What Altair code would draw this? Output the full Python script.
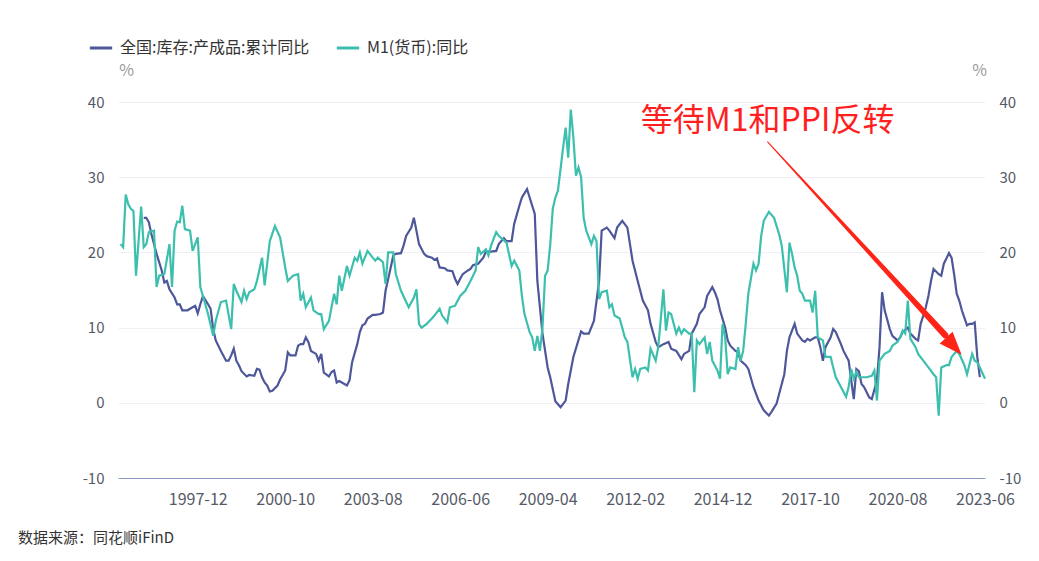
import altair as alt
import pandas as pd

# ---- data (month index counted from 1995-05) ----
series_names = ["全国:库存:产成品:累计同比", "M1(货币):同比"]
series_colors = ["#4d5799", "#3dbfae"]

inv_month = [10, 11, 12, 13, 15, 17, 18, 19, 20, 22, 23, 24, 25, 27, 29, 30, 31, 32, 33, 35, 36, 37, 38, 40, 42, 43, 44, 45, 46, 47, 48, 50, 51, 53, 54, 55, 56, 57, 58, 59, 60, 62, 63, 64, 65, 66, 67, 69, 70, 71, 72, 73, 74, 75, 77, 78, 79, 80, 82, 83, 84, 85, 86, 88, 89, 90, 91, 93, 94, 95, 96, 97, 99, 100, 102, 103, 104, 106, 107, 108, 110, 111, 112, 114, 115, 116, 117, 119, 120, 122, 123, 124, 125, 127, 128, 130, 131, 132, 133, 134, 136, 137, 138, 140, 142, 143, 145, 147, 148, 150, 151, 153, 154, 156, 157, 159, 160, 162, 163, 165, 167, 168, 170, 172, 174, 175, 177, 180, 181, 183, 185, 187, 188, 190, 191, 193, 194, 196, 198, 199, 200, 202, 204, 206, 207, 209, 210, 212, 214, 215, 217, 219, 220, 222, 223, 225, 226, 228, 229, 231, 232, 233, 234, 236, 237, 238, 240, 241, 242, 244, 245, 247, 249, 251, 253, 254, 256, 257, 259, 260, 261, 263, 264, 266, 267, 268, 269, 271, 272, 273, 274, 275, 277, 278, 279, 281, 282, 284, 285, 286, 287, 288, 289, 290, 291, 292, 293, 295, 296, 297, 298, 300, 301, 303, 304, 305, 307, 308, 310, 311, 312, 314, 315, 316, 317, 319, 320, 321, 323, 324, 325, 326, 327, 328, 330, 331, 332, 333, 334, 335]
inv_value = [24.6, 24.6, 24.0, 22.4, 19.8, 17.6, 16.0, 16.2, 15.1, 14.0, 13.1, 13.1, 12.3, 12.3, 12.7, 12.9, 11.9, 13.1, 14.2, 13.1, 12.5, 9.8, 8.3, 6.9, 5.6, 5.6, 6.3, 7.2, 5.6, 5.0, 4.2, 3.5, 3.7, 3.6, 4.5, 4.4, 3.4, 2.7, 2.3, 1.5, 1.6, 2.3, 3.1, 3.7, 4.3, 6.7, 6.3, 6.3, 7.6, 7.8, 7.8, 8.7, 8.1, 6.9, 6.5, 5.6, 6.5, 4.0, 3.5, 4.1, 4.3, 2.7, 2.9, 2.5, 2.3, 3.0, 5.4, 7.8, 9.4, 10.3, 10.5, 11.2, 11.7, 11.7, 11.8, 12.0, 14.9, 18.0, 19.6, 19.8, 19.9, 20.9, 22.2, 23.3, 24.6, 22.9, 21.1, 19.8, 19.5, 19.3, 19.0, 19.2, 18.0, 17.9, 17.6, 17.5, 16.5, 15.8, 16.5, 17.1, 17.6, 17.8, 18.3, 18.5, 19.3, 20.1, 20.1, 20.2, 21.1, 21.9, 21.5, 21.5, 23.8, 26.2, 27.3, 28.4, 27.3, 25.1, 16.2, 9.2, 4.7, 3.4, 0.2, -0.6, 0.3, 2.5, 6.1, 9.5, 9.2, 9.2, 10.9, 16.2, 22.9, 23.3, 22.9, 21.9, 23.3, 24.2, 23.3, 21.1, 18.9, 16.2, 13.6, 12.3, 10.5, 8.1, 7.4, 7.8, 8.1, 7.2, 6.9, 5.8, 6.5, 6.9, 9.2, 10.5, 11.8, 12.7, 14.2, 15.4, 14.7, 13.8, 12.3, 10.0, 8.3, 7.6, 6.9, 6.7, 5.6, 5.0, 4.5, 2.1, 0.3, -1.0, -1.7, -1.2, -0.1, 1.2, 3.8, 6.9, 8.7, 10.5, 9.2, 8.3, 8.1, 8.5, 8.3, 8.7, 8.7, 7.4, 5.6, 7.4, 8.7, 9.8, 9.4, 7.8, 6.9, 5.6, 3.0, 0.5, 4.5, 4.2, 2.5, 2.1, 1.4, 0.7, 0.5, 3.0, 7.4, 14.7, 12.3, 9.8, 8.9, 8.3, 8.7, 9.4, 10.0, 9.2, 8.5, 8.3, 10.5, 12.7, 14.2, 16.2, 17.8, 17.1, 16.9, 18.5, 19.9, 19.3, 17.1, 14.5, 13.6, 12.3, 10.3, 10.5, 10.5, 10.7, 6.1, 3.4]

m1_month = [1, 2, 3, 4, 5, 6, 7, 8, 9, 10, 11, 12, 14, 15, 16, 18, 20, 21, 22, 23, 24, 25, 26, 28, 29, 31, 32, 33, 35, 37, 38, 40, 42, 44, 45, 46, 48, 49, 50, 51, 53, 54, 56, 57, 59, 61, 63, 65, 66, 68, 70, 71, 72, 73, 75, 76, 78, 79, 80, 82, 84, 85, 86, 87, 89, 90, 92, 93, 94, 95, 97, 99, 100, 101, 103, 104, 105, 107, 108, 110, 112, 113, 115, 116, 117, 118, 120, 122, 123, 125, 126, 128, 129, 131, 133, 135, 137, 139, 140, 141, 143, 144, 145, 147, 148, 149, 151, 153, 154, 156, 157, 158, 160, 161, 162, 163, 164, 165, 166, 167, 168, 169, 170, 171, 173, 174, 175, 176, 177, 178, 179, 180, 181, 182, 184, 185, 186, 187, 188, 190, 191, 192, 193, 195, 197, 198, 200, 201, 202, 203, 205, 206, 207, 209, 210, 212, 213, 214, 215, 216, 217, 218, 219, 220, 222, 223, 224, 225, 226, 228, 229, 230, 231, 233, 234, 235, 236, 237, 238, 240, 241, 242, 243, 244, 245, 247, 248, 249, 250, 251, 253, 255, 257, 258, 260, 261, 262, 263, 264, 265, 266, 267, 269, 270, 271, 272, 274, 275, 277, 278, 279, 281, 283, 284, 285, 286, 287, 288, 290, 291, 293, 294, 295, 296, 298, 300, 301, 303, 304, 305, 306, 307, 308, 310, 311, 313, 315, 317, 318, 319, 320, 322, 323, 324, 326, 327, 329, 330, 332, 333, 334, 335, 337]
m1_value = [21.1, 20.7, 27.7, 26.4, 25.8, 25.5, 16.9, 21.5, 26.1, 20.7, 21.1, 22.7, 22.9, 15.4, 16.9, 17.1, 21.1, 15.4, 22.9, 24.1, 24.0, 26.2, 23.1, 22.9, 20.2, 22.0, 15.4, 14.2, 11.8, 8.9, 10.9, 13.4, 13.6, 9.8, 15.8, 14.9, 13.4, 14.9, 13.8, 14.7, 15.1, 16.2, 19.3, 15.6, 21.5, 23.5, 22.0, 18.0, 16.2, 16.9, 17.1, 13.6, 14.5, 12.7, 14.0, 12.3, 11.8, 11.8, 9.8, 10.9, 14.5, 13.1, 16.9, 14.9, 18.2, 16.9, 19.3, 18.9, 20.0, 18.5, 20.2, 19.3, 18.9, 19.3, 18.7, 15.8, 20.0, 20.0, 17.1, 14.9, 13.4, 12.7, 14.0, 15.1, 10.5, 10.0, 10.5, 11.2, 11.6, 12.5, 11.6, 10.7, 12.7, 12.9, 14.2, 14.9, 16.2, 17.6, 20.7, 19.8, 20.4, 19.6, 20.9, 22.7, 22.2, 21.9, 21.3, 18.2, 18.9, 17.6, 14.2, 11.8, 9.4, 8.7, 6.9, 8.9, 6.9, 10.0, 16.9, 17.6, 21.0, 25.8, 27.3, 28.2, 33.9, 36.6, 32.6, 39.0, 35.3, 30.2, 31.3, 30.0, 24.6, 22.9, 21.1, 22.2, 21.5, 13.8, 14.7, 14.9, 12.7, 13.1, 11.6, 11.2, 8.7, 8.1, 3.4, 4.5, 3.2, 4.5, 4.7, 4.3, 7.2, 5.6, 7.4, 15.1, 9.6, 12.0, 11.8, 10.5, 9.2, 10.0, 9.2, 9.8, 9.2, 9.2, 1.4, 8.3, 7.8, 8.7, 6.5, 8.1, 5.6, 4.3, 3.2, 10.5, 8.7, 3.8, 4.7, 4.5, 7.4, 5.6, 6.9, 10.5, 14.5, 18.5, 17.6, 18.5, 22.2, 24.2, 25.4, 24.6, 22.4, 20.9, 14.7, 21.3, 19.8, 18.0, 16.9, 14.9, 14.5, 13.6, 13.6, 12.0, 14.9, 8.7, 8.3, 6.1, 6.1, 4.7, 3.4, 2.1, 0.8, 2.1, 4.5, 3.2, 4.1, 3.4, 3.4, 3.4, 3.6, 4.3, 0.3, 5.6, 6.5, 6.9, 7.6, 8.1, 8.7, 9.6, 9.2, 13.6, 8.5, 7.4, 6.5, 5.6, 4.7, 3.8, 3.4, -1.7, 4.7, 5.0, 5.0, 6.1, 6.9, 6.5, 5.0, 3.8, 6.5, 5.6, 5.4, 4.7, 3.2]

x_tick_months = [31, 65, 99, 133, 167, 201, 235, 269, 303, 337]
x_tick_labels = ["1997-12", "2000-10", "2003-08", "2006-06", "2009-04",
                 "2012-02", "2014-12", "2017-10", "2020-08", "2023-06"]
y_ticks = [-10, 0, 10, 20, 30, 40]

note_text = ["等待M1和PPI反转"]
note_month = [203.2]
note_value = [37.5]
arrow_month = [252.5, 321.5]
arrow_value = [34.7, 9.0]
arrow_width = [1.0, 6.5]
head_month = [327.9]
head_value = [6.4]
source_text = ["数据来源：同花顺iFinD"]

FONT = "Noto Sans CJK SC"
LABEL_COLOR = "#555a66"

df = pd.concat([
    pd.DataFrame({"m": inv_month, "v": inv_value, "series": series_names[0]}),
    pd.DataFrame({"m": m1_month, "v": m1_value, "series": series_names[1]}),
])
df_m1 = pd.DataFrame({"m": m1_month, "v": m1_value})

label_expr = ("[" + ",".join("'%s'" % s for s in x_tick_labels) + "][indexof(["
              + ",".join(str(t) for t in x_tick_months) + "], datum.value)]")
y_label_expr = "'' + datum.value"

x_scale = alt.Scale(domain=[0, 337], nice=False, zero=False)
y_scale = alt.Scale(domain=[-10, 40], nice=False, zero=False)

x_enc = alt.X("m:Q", scale=x_scale, axis=alt.Axis(
    values=x_tick_months, labelExpr=label_expr, grid=False, ticks=False,
    domain=True, domainColor="#8a96c0", domainWidth=1, labelColor=LABEL_COLOR,
    labelFontSize=16, labelPadding=13, labelFlush=False, labelOverlap=False,
    labelFont=FONT, title=None))

lines = alt.Chart(df).mark_line(strokeWidth=2.2).encode(
    x=x_enc,
    y=alt.Y("v:Q", scale=y_scale, axis=alt.Axis(
        values=y_ticks, labelExpr=y_label_expr, grid=True, gridColor="#eef0f6",
        gridWidth=1, ticks=False, domain=False, labelColor=LABEL_COLOR,
        labelFontSize=15, labelPadding=14, labelFont=FONT, title="%",
        titleAngle=0, titleX=8, titleY=-32, titleAlign="center",
        titleBaseline="middle", titleColor="#9a9a9a", titleFontSize=16,
        titleFontWeight="normal", titleFont=FONT)),
    color=alt.Color("series:N", sort=series_names,
                    scale=alt.Scale(domain=series_names, range=series_colors),
                    legend=alt.Legend(
                        orient="none", legendX=-30, legendY=-67,
                        direction="horizontal", title=None, symbolType="stroke",
                        symbolSize=500, symbolStrokeWidth=3, labelFontSize=16,
                        labelColor="#333333", labelFont=FONT, labelLimit=0,
                        columnPadding=20, labelOffset=6, padding=0)),
)

ann = alt.Chart(pd.DataFrame({"m": note_month, "v": note_value, "t": note_text})).mark_text(
    align="left", baseline="middle", fontSize=32, color="#ff1f1f", font=FONT
).encode(x=alt.X("m:Q", scale=x_scale), y=alt.Y("v:Q", scale=y_scale), text="t:N")

arrow = alt.Chart(pd.DataFrame({"m": arrow_month, "v": arrow_value, "w": arrow_width})).mark_trail(
    color="#ff2418"
).encode(x=alt.X("m:Q", scale=x_scale), y=alt.Y("v:Q", scale=y_scale),
         size=alt.Size("w:Q", scale=None, legend=None))

head = alt.Chart(pd.DataFrame({"m": head_month, "v": head_value})).mark_point(
    shape="M0,0L-0.38,1L0.38,1Z", filled=True, size=2100, angle=137.7,
    color="#ff2418", opacity=1, strokeWidth=0
).encode(x=alt.X("m:Q", scale=x_scale), y=alt.Y("v:Q", scale=y_scale))

source = alt.Chart(pd.DataFrame({"t": source_text})).mark_text(
    align="left", baseline="middle", fontSize=15, color="#333333", font=FONT
).encode(text="t:N", x=alt.value(-100), y=alt.value(436))

main = alt.layer(lines, arrow, head, ann, source)

right_axis = alt.Chart(df_m1).mark_line(opacity=0).encode(
    x=alt.X("m:Q", scale=x_scale),
    y=alt.Y("v:Q", scale=y_scale, axis=alt.Axis(
        orient="right", values=y_ticks, labelExpr=y_label_expr, grid=False,
        ticks=False, domain=False, labelColor=LABEL_COLOR, labelFontSize=15,
        labelPadding=14, labelFont=FONT, title="%", titleAngle=0, titleX=-6,
        titleY=-32, titleAlign="center", titleBaseline="middle",
        titleColor="#9a9a9a", titleFontSize=16, titleFontWeight="normal",
        titleFont=FONT)),
)

chart = alt.layer(main, right_axis).resolve_scale(y="independent").properties(
    width=867, height=376,
    autosize=alt.AutoSizeParams(type="none"),
    padding={"left": 110, "top": 94, "right": 46, "bottom": 75},
    background="white",
).configure_view(stroke=None)

chart.save("out.html", embed_options={"renderer": "svg", "actions": False})
